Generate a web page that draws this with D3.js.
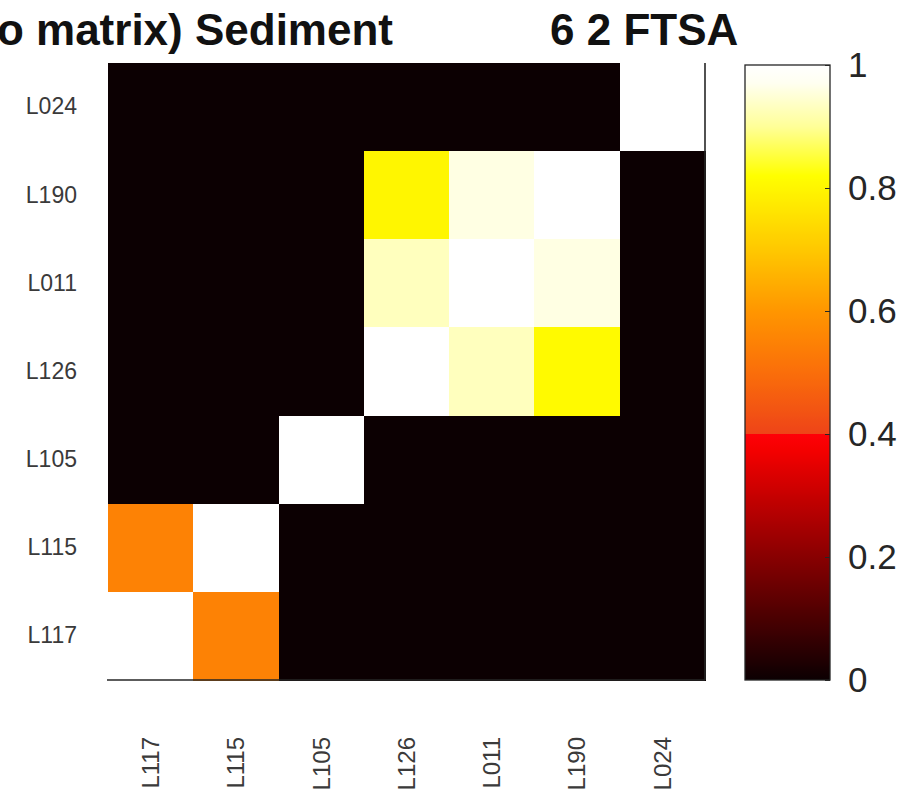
<!DOCTYPE html>
<html>
<head>
<meta charset="utf-8">
<script src="https://cdn.jsdelivr.net/npm/d3@7"></script>
<style>
  html, body { margin: 0; padding: 0; background: #ffffff; }
  svg { display: block; }
</style>
</head>
<body>
<svg id="chart" width="913" height="802"></svg>
<script>
// ---------- data ----------
const rowLabels = ["L024", "L190", "L011", "L126", "L105", "L115", "L117"]; // top -> bottom
const colLabels = ["L117", "L115", "L105", "L126", "L011", "L190", "L024"]; // left -> right

const rowL024 = [0, 0, 0, 0, 0, 0, 1];
const rowL190 = [0, 0, 0, 0.80, 0.96, 1, 0];
const rowL011 = [0, 0, 0, 0.93, 1, 0.96, 0];
const rowL126 = [0, 0, 0, 1, 0.93, 0.81, 0];
const rowL105 = [0, 0, 1, 0, 0, 0, 0];
const rowL115 = [0.55, 1, 0, 0, 0, 0, 0];
const rowL117 = [1, 0.55, 0, 0, 0, 0, 0];
const matrixRows = [rowL024, rowL190, rowL011, rowL126, rowL105, rowL115, rowL117];

const colorbarTicks = [0, 0.2, 0.4, 0.6, 0.8, 1];
const colorbarTickLabels = ["0", "0.2", "0.4", "0.6", "0.8", "1"];

const titleLeft = "o matrix) Sediment";
const titleRight = "6 2 FTSA";

// ---------- layout ----------
const svg = d3.select("#chart");
const plot = { left: 108, right: 705, top: 63, bottom: 680 };
const cbar = { left: 745, right: 830, top: 65, bottom: 680 };

const color = d3.scaleLinear()
  .domain([0, 0.375, 0.3999, 0.4, 0.5, 0.6, 0.7, 0.82, 0.9, 0.97, 1])
  .range(["#0c0002", "#f50000", "#ff0008", "#ee4418", "#fa6e0a", "#ff9600", "#ffc800", "#ffff00", "#ffff98", "#fffff0", "#ffffff"])
  .clamp(true);

const x = d3.scaleBand().domain(colLabels).range([plot.left, plot.right]).padding(0);
const y = d3.scaleBand().domain(rowLabels).range([plot.top, plot.bottom]).padding(0);

const cells = [];
matrixRows.forEach((row, ri) => row.forEach((v, ci) => cells.push({ r: rowLabels[ri], c: colLabels[ci], v })));

svg.append("g").attr("shape-rendering", "crispEdges").selectAll("rect").data(cells).join("rect")
  .attr("x", d => x(d.c))
  .attr("y", d => y(d.r))
  .attr("width", x.bandwidth() + 1)
  .attr("height", y.bandwidth() + 1)
  .attr("fill", d => color(d.v));

// box lines (right and bottom)
svg.append("line").attr("x1", plot.left - 1).attr("x2", plot.right).attr("y1", plot.bottom).attr("y2", plot.bottom)
  .attr("stroke", "#262626").attr("stroke-width", 1.6);
svg.append("line").attr("x1", plot.right).attr("x2", plot.right).attr("y1", plot.top).attr("y2", plot.bottom)
  .attr("stroke", "#262626").attr("stroke-width", 1.6);

// axes
const yAxis = svg.append("g").attr("transform", `translate(${plot.left},0)`)
  .call(d3.axisLeft(y).tickSize(0).tickPadding(31));
yAxis.select(".domain").remove();
yAxis.selectAll("text")
  .attr("font-family", "'Liberation Sans', Arial, sans-serif")
  .attr("font-size", 23).attr("fill", "#3a3a3a");

const xAxis = svg.append("g").attr("transform", `translate(0,${plot.bottom})`)
  .call(d3.axisBottom(x).tickSize(0));
xAxis.select(".domain").remove();
xAxis.selectAll("text")
  .attr("font-family", "'Liberation Sans', Arial, sans-serif")
  .attr("font-size", 24).attr("fill", "#3a3a3a")
  .attr("text-anchor", "end")
  .attr("transform", "translate(0,57) rotate(-90)")
  .attr("x", 0).attr("y", 0).attr("dy", "0.35em");

// colorbar
const cy = d3.scaleLinear().domain([0, 1]).range([cbar.bottom, cbar.top]);
const defs = svg.append("defs");
const grad = defs.append("linearGradient").attr("id", "cbgrad")
  .attr("x1", 0).attr("y1", 1).attr("x2", 0).attr("y2", 0);
const stops = d3.range(0, 1.0001, 0.005);
stops.push(0.3999, 0.4);
stops.sort((a, b) => a - b);
grad.selectAll("stop").data(stops).join("stop")
  .attr("offset", d => d)
  .attr("stop-color", d => color(d));

svg.append("rect")
  .attr("x", cbar.left).attr("y", cbar.top)
  .attr("width", cbar.right - cbar.left).attr("height", cbar.bottom - cbar.top)
  .attr("fill", "url(#cbgrad)").attr("stroke", "#262626").attr("stroke-width", 1.3);

const cbAxis = svg.append("g").attr("transform", `translate(${cbar.right},0)`)
  .call(d3.axisRight(cy).tickValues(colorbarTicks).tickFormat((d, i) => colorbarTickLabels[i]).tickSize(-5).tickPadding(18));
cbAxis.select(".domain").remove();
cbAxis.selectAll("line").attr("stroke", "#262626");
cbAxis.selectAll("text")
  .attr("font-family", "'Liberation Sans', Arial, sans-serif")
  .attr("font-size", 35).attr("fill", "#262626");

// titles
svg.append("text").attr("x", 393).attr("y", 45).attr("text-anchor", "end")
  .attr("font-family", "'Liberation Sans', Arial, sans-serif").attr("font-weight", "bold")
  .attr("font-size", 44).attr("fill", "#111").text(titleLeft);
svg.append("text").attr("x", 550).attr("y", 45).attr("text-anchor", "start")
  .attr("font-family", "'Liberation Sans', Arial, sans-serif").attr("font-weight", "bold")
  .attr("font-size", 44).attr("fill", "#111").text(titleRight);
</script>
</body>
</html>
